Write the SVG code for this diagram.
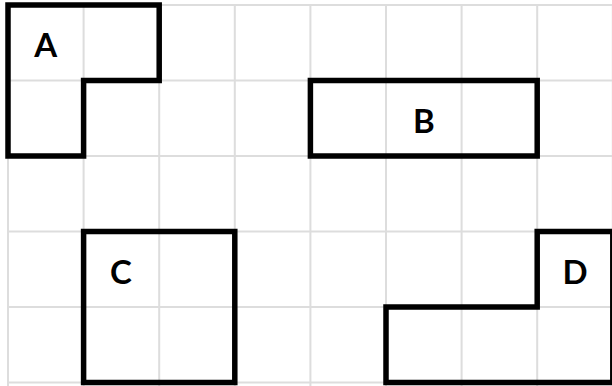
<svg xmlns="http://www.w3.org/2000/svg" width="612" height="386" viewBox="0 0 612 386">
<style>
.g{stroke:#dddddd;stroke-width:2;fill:none}
.s{stroke:#000;stroke-width:5.5;fill:none;stroke-linejoin:miter}
.t{font-family:Lato,"DejaVu Sans",sans-serif;font-weight:bold;font-size:33px;fill:#000;text-anchor:middle}
</style>
<rect width="612" height="386" fill="#fff"/>
<g id="grid" class="g">
<path d="M8,5V386M83.6,5V386M159.2,5V386M234.8,5V386M310.4,5V386M386,5V386M461.6,5V386M537.2,5V386M612.8,5V386"/>
<path d="M8,5H612M8,80.5H612M8,156H612M8,231.5H612M8,307H612M8,382.5H612"/>
</g>
<g id="A">
<path class="s" d="M8,5H159.2V80.5H83.6V156H8Z"/>
<text class="t" x="45.8" y="56.5">A</text>
</g>
<g id="B">
<rect class="s" x="310.4" y="80.5" width="226.8" height="75.5"/>
<text class="t" x="423.8" y="132.5">B</text>
</g>
<g id="C">
<rect class="s" x="83.6" y="231.5" width="151.2" height="151"/>
<text class="t" x="121" y="284">C</text>
</g>
<g id="D">
<path class="s" d="M537.2,231.5H612.8V382.5H386V307H537.2Z"/>
<text class="t" x="575" y="284">D</text>
</g>
<g id="connectors"></g>
</svg>
